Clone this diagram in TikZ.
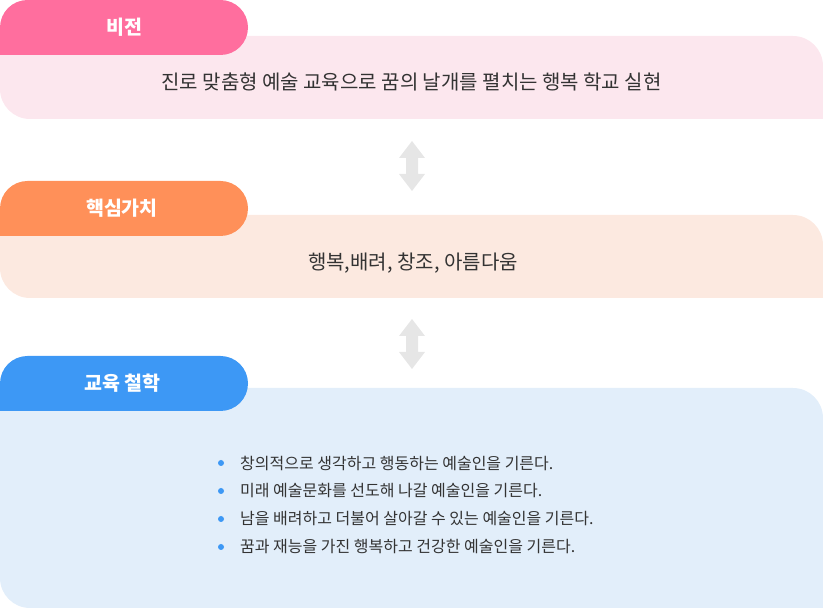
\documentclass[tikz,border=0pt]{standalone}
\usepackage{fontspec}
\setmainfont{Noto Sans CJK KR}
\definecolor{tabpink}{HTML}{FF6E9E}
\definecolor{boxpink}{HTML}{FCE7EE}
\definecolor{taborange}{HTML}{FF9059}
\definecolor{boxorange}{HTML}{FCE9E0}
\definecolor{tabblue}{HTML}{3D98F5}
\definecolor{boxblue}{HTML}{E2EEFA}
\definecolor{arrowgray}{HTML}{E6E6E6}
\definecolor{txt}{HTML}{333333}
\begin{document}
\begin{tikzpicture}[x=1pt,y=1pt,
  tabtext/.style={text=white,font=\fontsize{19.5}{22}\selectfont\bfseries,inner sep=0pt},
  maintext/.style={text=txt,font=\fontsize{20}{23}\selectfont,inner sep=0pt},
  bullettext/.style={text=txt,font=\fontsize{16}{19}\selectfont,inner sep=0pt,anchor=west},
  bulletdot/.style={circle,fill=tabblue,minimum size=6pt,inner sep=0pt}]
\useasboundingbox (0,0) rectangle (823,608);
% panel 1
\fill[boxpink] (0,572) -- (793,572) arc[start angle=90,end angle=0,radius=30] -- (823,489) -- (30,489) arc[start angle=270,end angle=180,radius=30] -- cycle;
\fill[tabpink] (0,553) -- (0,580.5) arc[start angle=180,end angle=90,radius=27.5] -- (220.5,608) arc[start angle=90,end angle=-90,radius=27.5] -- cycle;
\node[tabtext] (t1) at (124.5,581) {비전};
\node[maintext] (m1) at (411.5,526) {진로 맞춤형 예술 교육으로 꿈의 날개를 펼치는 행복 학교 실현};
% panel 2
\fill[boxorange] (0,393) -- (793,393) arc[start angle=90,end angle=0,radius=30] -- (823,310) -- (30,310) arc[start angle=270,end angle=180,radius=30] -- cycle;
\fill[taborange] (0,372) -- (0,399.5) arc[start angle=180,end angle=90,radius=27.5] -- (220.5,427) arc[start angle=90,end angle=-90,radius=27.5] -- cycle;
\node[tabtext] (t2) at (122,400) {핵심가치};
\node[maintext] (m2) at (413,345) {행복,배려, 창조, 아름다움};
% panel 3
\fill[boxblue] (0,220) -- (793,220) arc[start angle=90,end angle=0,radius=30] -- (823,0) -- (30,0) arc[start angle=270,end angle=180,radius=30] -- cycle;
\fill[tabblue] (0,197) -- (0,224.5) arc[start angle=180,end angle=90,radius=27.5] -- (220.5,252) arc[start angle=90,end angle=-90,radius=27.5] -- cycle;
\node[tabtext] (t3) at (122.5,225) {교육 철학};
% arrows
\fill[arrowgray] (412,467) -- (425,450) -- (418,450) -- (418,434) -- (425,434) -- (412,417) -- (399,434) -- (406,434) -- (406,450) -- (399,450) -- cycle;
\fill[arrowgray] (412,289) -- (425,272) -- (418,272) -- (418,256) -- (425,256) -- (412,239) -- (399,256) -- (406,256) -- (406,272) -- (399,272) -- cycle;
% bullets
\node[bulletdot] (d1) at (221,145) {};
\node[bulletdot] (d2) at (221,117) {};
\node[bulletdot] (d3) at (221,89) {};
\node[bulletdot] (d4) at (221,61) {};
\node[bullettext] (b1) at (240,145) {창의적으로 생각하고 행동하는 예술인을 기른다.};
\node[bullettext] (b2) at (240,117) {미래 예술문화를 선도해 나갈 예술인을 기른다.};
\node[bullettext] (b3) at (240,89) {남을 배려하고 더불어 살아갈 수 있는 예술인을 기른다.};
\node[bullettext] (b4) at (240,61) {꿈과 재능을 가진 행복하고 건강한 예술인을 기른다.};
\end{tikzpicture}
\end{document}
